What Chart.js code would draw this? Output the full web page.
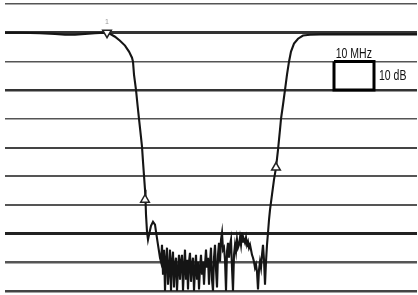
<!DOCTYPE html>
<html>
<head>
<meta charset="utf-8">
<script src="https://cdn.jsdelivr.net/npm/chart.js@4"></script>
<style>
  html, body { margin: 0; padding: 0; background: #fff; }
  #wrap { width: 418px; height: 295px; }
</style>
</head>
<body>
<div id="wrap"><canvas id="grafik" width="418" height="295"></canvas></div>
<script>
// trace: frequency (MHz from left edge) and level (dB)
const freqMHz = [
  0, 3.75, 8.75, 12.5, 15, 17.5, 20, 22.5, 25, 26.25, 27.5, 28.75, 30, 31, 31.75, 32,
  32.25, 32.75, 33.125, 33.5, 33.875, 34.25, 34.5, 34.75, 35, 35.125, 35.25, 35.5, 35.75,
  36, 36.5, 37, 37.5, 37.75, 38.25, 38.75, 39,
  39.25, 39.5, 39.75, 40, 40.25, 40.5, 40.75, 41, 41.25, 41.5, 41.75, 42, 42.25, 42.5, 42.75,
  43, 43.25, 43.5, 43.75, 44, 44.25, 44.5, 44.75, 45, 45.25, 45.5, 45.75, 46, 46.25, 46.5,
  46.75, 47, 47.25, 47.5, 47.75, 48, 48.25, 48.5, 48.75, 49, 49.25, 49.5, 49.75, 50, 50.25,
  50.5, 50.75, 51, 51.25, 51.5, 51.75, 52, 52.25, 52.5, 52.75, 53, 53.25, 53.5, 53.75, 54,
  54.25, 54.5, 54.75, 55, 55.25, 55.5, 55.75, 56, 56.25, 56.5, 56.75, 57, 57.25, 57.5, 57.75,
  58, 58.25, 58.5, 58.75, 59, 59.25, 59.5, 59.75, 60, 60.25, 60.5, 60.75, 61, 61.25, 61.5,
  61.75, 62, 62.25, 62.5, 62.75, 63, 63.25, 63.5, 63.75, 64, 64.25, 64.5, 64.75, 65, 65.25,
  65.5, 65.75,
  66, 66.25, 66.75, 67.25, 67.75, 68.25, 68.75, 69, 69.5, 70, 70.5, 71, 71.5, 72.25, 73.25,
  74.5, 76.25, 78.75, 83.75, 88.75, 93.75, 98.75, 103
];
const levelDb = [
  -10, -10, -10.2, -10.4, -10.7, -10.7, -10.4, -10.2, -10, -10.4, -11.4, -12.8, -14.5, -16.6, -18.7, -20.1,
  -24.6, -29.9, -35.1, -40, -44.8, -49.7, -54.9, -59.8, -64.7, -68.2, -73.4, -79.3, -82.1,
  -80.4, -77.3, -75.9, -76.9, -79.3, -83.9, -88.4, -89.8,
  -83.9, -94.3, -85.6, -100, -89.1, -84.9, -97.8, -92.6, -85.6, -100, -89.8, -86.3, -98.8, -90.8, -88.4,
  -100, -92.6, -87.4, -96.1, -89.8, -87.4, -100, -91.9, -85.6, -96.1, -89.1, -99.5, -89.8, -86.7, -96.8,
  -90.8, -88.4, -100, -92.6, -87.4, -96.1, -89.8, -99.5, -91.9, -87.4, -94.3, -89.8, -97.8, -90.8, -85.6,
  -91.9, -88.4, -97.8, -89.8, -84.9, -96.1, -100, -88.4, -83.9, -92.6, -98.8, -87.4, -83.2, -89.8, -82.1,
  -79.7, -85.6, -84.9, -89.1, -100, -86.3, -83.2, -88.4, -83.9, -82.1, -91.9, -100, -87.4, -83.9, -86.3,
  -82.1, -84.9, -83.9, -81.4, -83.9, -79.7, -82.8, -82.1, -83.2, -81.4, -83.9, -82.8, -84.9, -83.9, -85.6,
  -87.4, -88.4, -89.8, -91.9, -90.8, -93.3, -99.5, -92.6, -89.8, -91.9, -87.4, -83.9, -89.1, -97.8, -89.8,
  -83.9, -79.7,
  -75.2, -71.7, -66.4, -61.2, -57, -50.8, -43.8, -40, -35.1, -29.9, -24.6, -20.1, -16.6, -13.8, -12.1,
  -11, -10.7, -10.6, -10.6, -10.6, -10.6, -10.6, -10.6
];

// markers
const markerDownFreq = [25.5];
const markerDownDb = [-10];
const markerUpFreq = [35, 67.75];
const markerUpDb = [-68.2, -57];

// scale box: 10 MHz wide, 10 dB tall
const boxFreq = [82.25, 92.25, 92.25, 82.25, 82.25];
const boxDb = [-20, -20, -30, -30, -20];

const yMin = -100, yMax = 0, yStep = 10;
const xMin = 0, xMax = 103;

// look of the horizontal graticule lines, keyed by dB value
const gridLook = {
  '0': ['#555', 1.5], '-10': ['#333', 3], '-20': ['#555', 1.5], '-30': ['#333', 2.5],
  '-40': ['#555', 1.5], '-50': ['#444', 2], '-60': ['#555', 2], '-70': ['#555', 2],
  '-80': ['#222', 3], '-90': ['#555', 2.5], '-100': ['#444', 2.5]
};

const toPts = (xs, ys) => xs.map((x, i) => ({ x: x, y: ys[i] }));

// condensed text, like the narrow font in the original
function tulisSempit(ctx, teks, x, y, align) {
  const skala = 0.75;
  ctx.save();
  ctx.translate(x, y);
  ctx.scale(skala, 1);
  ctx.textAlign = align;
  ctx.fillText(teks, 0, 0);
  ctx.restore();
}

const labelPlugin = {
  id: 'labelSkala',
  afterDatasetsDraw(chart) {
    const { ctx, scales: { x, y } } = chart;
    ctx.save();
    ctx.fillStyle = '#111';
    ctx.font = '14px "Liberation Sans", Arial, sans-serif';
    ctx.textBaseline = 'middle';
    tulisSempit(ctx, '10 MHz', x.getPixelForValue(87.2), y.getPixelForValue(-17.5), 'center');
    tulisSempit(ctx, '10 dB', x.getPixelForValue(93.5), y.getPixelForValue(-25.1), 'left');
    ctx.fillStyle = '#999';
    ctx.font = '7px "Liberation Sans", sans-serif';
    ctx.textAlign = 'center';
    ctx.fillText('1', x.getPixelForValue(25.5), y.getPixelForValue(-6.2));
    ctx.restore();
  }
};

const grafik = new Chart(document.getElementById('grafik').getContext('2d'), {
  type: 'scatter',
  data: {
    datasets: [
      {
        label: 'Trace',
        data: toPts(freqMHz, levelDb),
        showLine: true,
        borderColor: '#151515',
        borderWidth: 2.1,
        pointRadius: 0,
        tension: 0,
        order: 2
      },
      {
        label: 'Skala',
        data: toPts(boxFreq, boxDb),
        showLine: true,
        borderColor: '#000',
        borderWidth: 3,
        borderJoinStyle: 'miter',
        pointRadius: 0,
        fill: false,
        order: 1
      },
      {
        label: 'Marker 1',
        data: toPts(markerDownFreq, markerDownDb),
        pointStyle: 'triangle',
        rotation: 180,
        pointRadius: 5,
        backgroundColor: '#fff',
        borderColor: '#222',
        borderWidth: 1.5,
        order: 0
      },
      {
        label: 'Marker 2',
        data: toPts(markerUpFreq, markerUpDb),
        pointStyle: 'triangle',
        pointRadius: 5,
        backgroundColor: '#fff',
        borderColor: '#222',
        borderWidth: 1.5,
        order: 0
      }
    ]
  },
  options: {
    responsive: false,
    animation: false,
    layout: { autoPadding: false, padding: { left: 5, right: 1, top: 4, bottom: 4 } },
    plugins: { legend: { display: false }, tooltip: { enabled: false } },
    scales: {
      x: { type: 'linear', min: xMin, max: xMax, display: false },
      y: {
        type: 'linear',
        min: yMin,
        max: yMax,
        afterFit: s => { s.width = 0; },
        ticks: { display: false, stepSize: yStep },
        grid: {
          drawTicks: false,
          color: c => (gridLook[String(c.tick.value)] || ['#555'])[0],
          lineWidth: c => (gridLook[String(c.tick.value)] || [0, 2])[1]
        },
        border: { display: false }
      }
    }
  },
  plugins: [labelPlugin]
});
</script>
</body>
</html>
